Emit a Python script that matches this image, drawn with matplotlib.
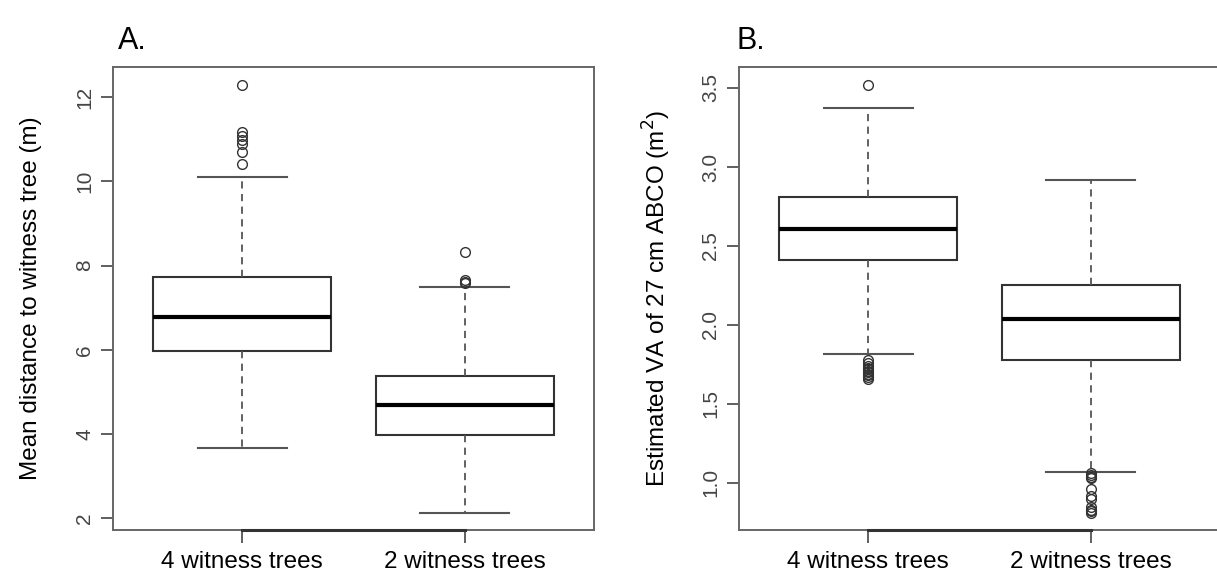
import matplotlib
matplotlib.use("Agg")
import matplotlib.pyplot as plt

plt.rcParams['font.family'] = ['Liberation Sans', 'DejaVu Sans']

groups = ["4 witness trees", "2 witness trees"]

# Panel A: mean distance to witness tree (m)
dist_q1 = [5.97, 3.97]
dist_med = [6.79, 4.70]
dist_q3 = [7.73, 5.39]
dist_lo = [3.66, 2.13]
dist_hi = [10.10, 7.50]
dist_fliers = [[12.29, 11.18, 11.08, 10.98, 10.88, 10.70, 10.40],
               [8.32, 7.66, 7.62, 7.58]]

# Panel B: estimated VA of 27 cm ABCO (m2)
va_q1 = [2.41, 1.78]
va_med = [2.61, 2.04]
va_q3 = [2.807, 2.253]
va_lo = [1.815, 1.067]
va_hi = [3.374, 2.92]
va_fliers = [[3.52, 1.78, 1.76, 1.74, 1.73, 1.72, 1.71, 1.70, 1.69, 1.68, 1.67, 1.66],
             [1.06, 1.05, 1.04, 1.03, 0.96, 0.92, 0.90, 0.85, 0.83, 0.82, 0.81]]


def stats(q1, med, q3, lo, hi, fliers):
    return [dict(q1=q1[i], med=med[i], q3=q3[i], whislo=lo[i], whishi=hi[i],
                 fliers=fliers[i], label=groups[i]) for i in range(len(groups))]


def draw(ax, st, ylabel, yticks, fmt):
    ax.bxp(st, positions=[1, 2], widths=0.8, capwidths=0.4, patch_artist=True,
           boxprops=dict(facecolor='white', edgecolor='#333333', linewidth=1.5),
           medianprops=dict(color='black', linewidth=3.0),
           whiskerprops=dict(color='#555555', linewidth=1.3, linestyle=(0, (4, 3))),
           capprops=dict(color='#555555', linewidth=1.5),
           flierprops=dict(marker='o', markersize=7, markerfacecolor='none',
                           markeredgecolor='#333333', markeredgewidth=1.0))
    ax.set_xlim(0.42, 2.58)
    ax.margins(y=0.04)
    ax.set_yticks(yticks)
    ax.set_yticklabels([fmt.format(v) for v in yticks], rotation=90, va='center')
    ax.set_xticks([1, 2])
    ax.set_xticklabels(groups, fontsize=17.5)
    ax.tick_params(axis='y', labelsize=15, labelcolor='#444444', color='#444444',
                   length=8.5, width=1.2, pad=5)
    ax.tick_params(axis='x', color='#444444', length=9, width=1.2, pad=6)
    for sp in ax.spines.values():
        sp.set_color('#666666')
        sp.set_linewidth(1.4)
    ax.set_ylabel(ylabel, fontsize=17.5, va='center')
    ax.yaxis.set_label_coords(-0.17, 0.5)
    # R draws the axis line between the outer ticks on top of the frame
    y0 = ax.get_ylim()[0]
    ax.plot([1, 2], [y0, y0], color='#333333', lw=2.2, clip_on=False, zorder=5)
    ax.set_ylim(y0, ax.get_ylim()[1])


fig = plt.figure(figsize=(12.17, 5.88), dpi=100)
ax1 = fig.add_axes([0.0929, 0.0986, 0.3952, 0.7874])
ax2 = fig.add_axes([0.6072, 0.0986, 0.3952, 0.7874])

draw(ax1, stats(dist_q1, dist_med, dist_q3, dist_lo, dist_hi, dist_fliers),
     "Mean distance to witness tree (m)", [2, 4, 6, 8, 10, 12], "{:g}")
draw(ax2, stats(va_q1, va_med, va_q3, va_lo, va_hi, va_fliers),
     "Estimated VA of 27 cm ABCO (m$^2$)", [1.0, 1.5, 2.0, 2.5, 3.0, 3.5], "{:.1f}")

fig.text(0.097, 0.93, "A.", fontsize=22, ha='left', va='center')
fig.text(0.605, 0.93, "B.", fontsize=22, ha='left', va='center')

fig.savefig("out.png", dpi=100)
